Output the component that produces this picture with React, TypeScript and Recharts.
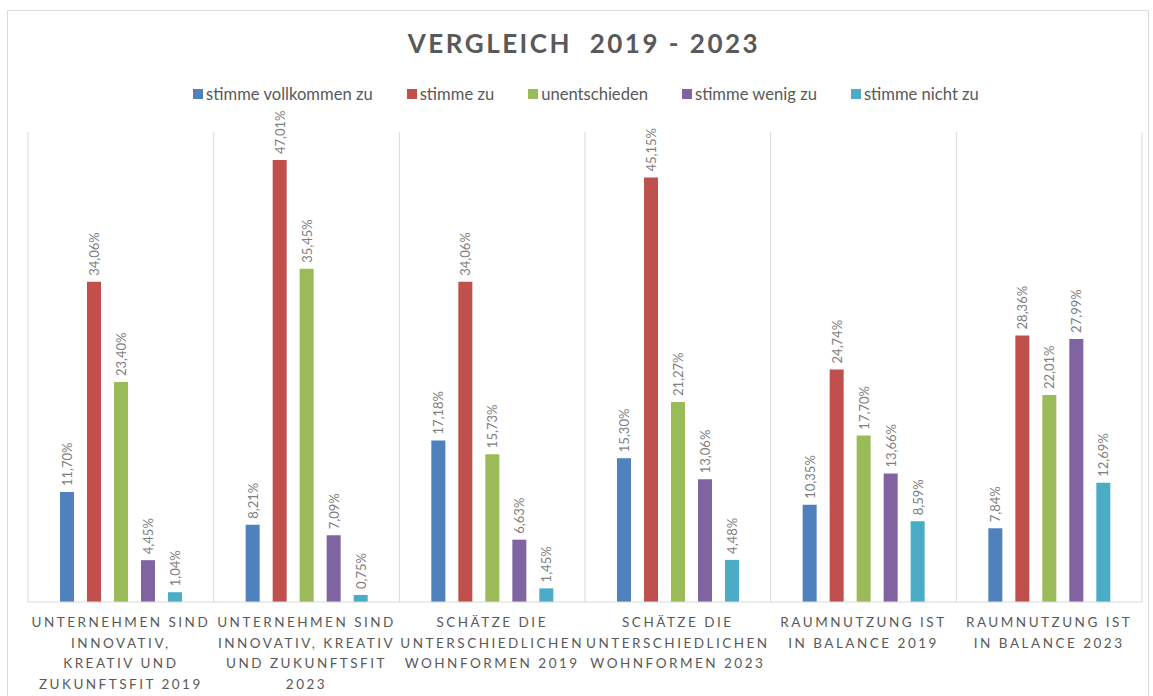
import React from "react";
import {
  BarChart,
  Bar,
  XAxis,
  YAxis,
  CartesianGrid,
  LabelList,
} from "recharts";

// categories, lines separated by "|"
const categories = [
  "UNTERNEHMEN SIND|INNOVATIV,|KREATIV UND|ZUKUNFTSFIT 2019",
  "UNTERNEHMEN SIND|INNOVATIV, KREATIV|UND ZUKUNFTSFIT|2023",
  "SCHÄTZE DIE|UNTERSCHIEDLICHEN|WOHNFORMEN 2019",
  "SCHÄTZE DIE|UNTERSCHIEDLICHEN|WOHNFORMEN 2023",
  "RAUMNUTZUNG IST|IN BALANCE 2019",
  "RAUMNUTZUNG IST|IN BALANCE 2023",
];

const seriesNames = [
  "stimme vollkommen zu",
  "stimme zu",
  "unentschieden",
  "stimme wenig zu",
  "stimme nicht zu",
];

const vollkommenZu = [11.7, 8.21, 17.18, 15.3, 10.35, 7.84];
const stimmeZu = [34.06, 47.01, 34.06, 45.15, 24.74, 28.36];
const unentschieden = [23.4, 35.45, 15.73, 21.27, 17.7, 22.01];
const wenigZu = [4.45, 7.09, 6.63, 13.06, 13.66, 27.99];
const nichtZu = [1.04, 0.75, 1.45, 4.48, 8.59, 12.69];

const colors = ["#4F81BD", "#C0504D", "#9BBB59", "#8064A2", "#4BACC6"];
const seriesValues = [vollkommenZu, stimmeZu, unentschieden, wenigZu, nichtZu];

const data = categories.map((name, i) => {
  const row: Record<string, string | number> = { name };
  seriesValues.forEach((vals, s) => {
    row["s" + s] = vals[i];
  });
  return row;
});

const FONT = "Lato, 'Open Sans', sans-serif";

const CategoryTick = (props: any) => {
  const { x, y, payload } = props;
  const lines: string[] = String(payload.value).split("|");
  return (
    <text
      x={x}
      y={y}
      textAnchor="middle"
      fill="#595959"
      fontSize={13.5}
      fontFamily={FONT}
      style={{ letterSpacing: 2.5 }}
    >
      {lines.map((line, i) => (
        <tspan key={i} x={x} dy={i === 0 ? 25 : 20.5}>
          {line}
        </tspan>
      ))}
    </text>
  );
};

const ValueLabel = (props: any) => {
  const { x, y, width, value } = props;
  const cx = x + width / 2;
  const ty = y - 6;
  return (
    <text
      x={cx}
      y={ty}
      transform={`rotate(-90, ${cx}, ${ty})`}
      textAnchor="start"
      dominantBaseline="central"
      fill="#7F7F7F"
      fontSize={13}
      fontFamily={FONT}
    >
      {Number(value).toFixed(2).replace(".", ",") + "%"}
    </text>
  );
};

export default function App() {
  return (
    <div
      style={{
        position: "absolute",
        left: 0,
        top: 0,
        width: 1153,
        height: 696,
        overflow: "hidden",
        background: "#fff",
        fontFamily: FONT,
      }}
    >
      <div
        style={{
          position: "absolute",
          left: 7,
          top: 10,
          width: 1140,
          height: 720,
          border: "1.5px solid #D9D9D9",
        }}
      />
      <div
        style={{
          position: "absolute",
          left: 0,
          width: 1168,
          top: 27,
          textAlign: "center",
          fontSize: 26,
          fontWeight: 700,
          letterSpacing: 2.5,
          color: "#595959",
        }}
      >
        VERGLEICH&nbsp; 2019 - 2023
      </div>
      <div
        style={{
          position: "absolute",
          left: 0,
          width: 1172,
          top: 84,
          display: "flex",
          justifyContent: "center",
          gap: 34,
          fontSize: 16.6,
          color: "#595959",
        }}
      >
        {seriesNames.map((n, i) => (
          <div key={n} style={{ display: "flex", alignItems: "center" }}>
            <span
              style={{
                width: 10,
                height: 10,
                background: colors[i],
                marginRight: 3,
                display: "inline-block",
              }}
            />
            <span>{n}</span>
          </div>
        ))}
      </div>
      <div style={{ position: "absolute", left: 0, top: 0 }}>
        <BarChart
          width={1153}
          height={696}
          data={data}
          margin={{ top: 132, right: 11, left: 28, bottom: 64 }}
          barSize={14}
          barGap={13}
        >
          <CartesianGrid
            horizontal={false}
            stroke="#D9D9D9"
            verticalCoordinatesGenerator={({ offset }: any) =>
              Array.from(
                { length: categories.length + 1 },
                (_, i) => offset.left + (i * offset.width) / categories.length
              )
            }
          />
          <XAxis
            dataKey="name"
            interval={0}
            height={30}
            tickLine={false}
            tickSize={0}
            tickMargin={0}
            axisLine={{ stroke: "#D9D9D9" }}
            tick={<CategoryTick />}
          />
          <YAxis hide domain={[0, 50]} />
          {seriesNames.map((n, s) => (
            <Bar
              key={n}
              dataKey={"s" + s}
              name={n}
              fill={colors[s]}
              isAnimationActive={false}
            >
              <LabelList dataKey={"s" + s} content={<ValueLabel />} />
            </Bar>
          ))}
        </BarChart>
      </div>
    </div>
  );
}
